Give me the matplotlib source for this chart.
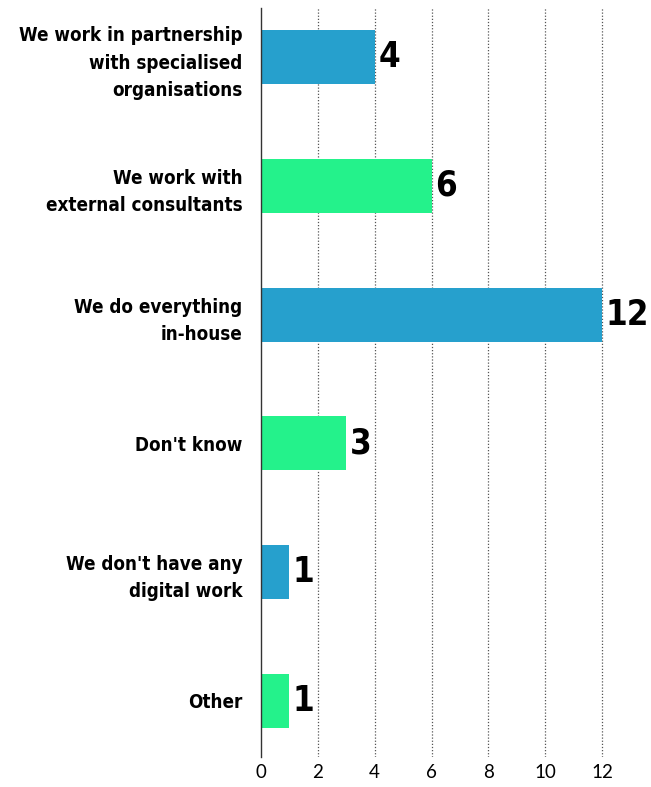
import matplotlib
matplotlib.use("Agg")
import matplotlib.pyplot as plt

categories = [
    "We work in partnership\nwith specialised\norganisations",
    "We work with\nexternal consultants",
    "We do everything\nin-house",
    "Don't know",
    "We don't have any\ndigital work",
    "Other",
]
counts = [4, 6, 12, 3, 1, 1]
colors = ["#26a0cd", "#24f28b"] * 3
xticks = [0, 2, 4, 6, 8, 10, 12]

fig = plt.figure(figsize=(6.51, 7.87), dpi=100)
xmax = 13.4
ax = fig.add_axes([261 / 651, 1 - 757 / 787, (341 / 651) * xmax / 12, 749 / 787])

pos = list(range(len(categories)))
bars = ax.barh(pos, counts, height=0.42, color=colors, zorder=2)
ax.set_ylim(5.435, -0.38)
ax.set_xlim(0, xmax)

ax.set_yticks(pos)
ax.set_yticklabels(categories, fontsize=13.5, fontweight="bold",
                   family=["DejaVu Sans"], fontstretch="condensed", linespacing=1.55)
ax.set_xticks(xticks)
ax.set_xticklabels([str(t) for t in xticks], fontsize=13.5, family=["Lato"], color="black")
ax.tick_params(axis="both", length=0)
ax.tick_params(axis="y", pad=13.5)
ax.tick_params(axis="x", pad=5)

for s in ["top", "right", "bottom"]:
    ax.spines[s].set_visible(False)
ax.spines["left"].set_color("#333333")
ax.spines["left"].set_linewidth(1.0)

for t in xticks[1:]:
    ax.axvline(t, color="#555555", linestyle=(0, (1, 1.5)), linewidth=0.9, zorder=1)

for b, v in zip(bars, counts):
    ax.annotate(str(v), (b.get_width(), b.get_y() + b.get_height() / 2),
                xytext=(2.5, 0), textcoords="offset points", ha="left", va="center",
                fontsize=25, fontweight="heavy", family=["DejaVu Sans"], fontstretch="condensed")

fig.savefig("out.png", dpi=100)
